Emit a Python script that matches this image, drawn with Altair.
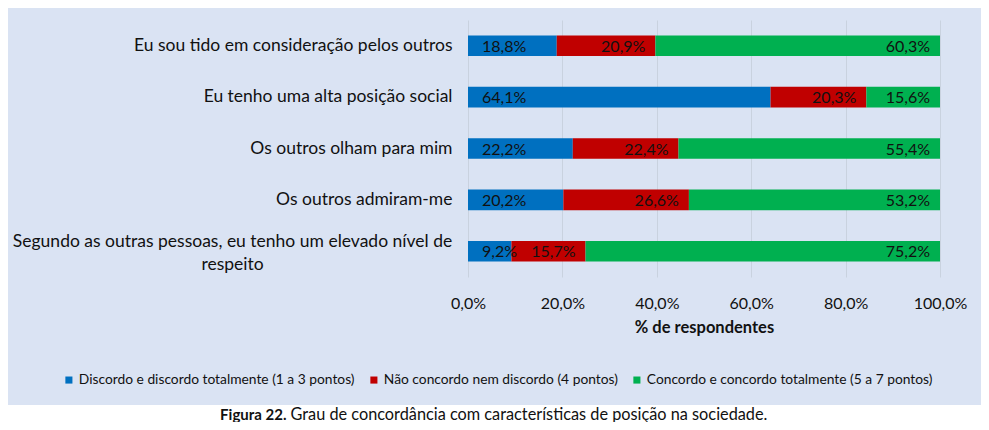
import json
import altair as alt
import pandas as pd

categories = [
    "Eu sou tido em consideração pelos outros",
    "Eu tenho uma alta posição social",
    "Os outros olham para mim",
    "Os outros admiram-me",
    "Segundo as outras pessoas, eu tenho um elevado nível de respeito",
]
multiline_label = "Segundo as outras pessoas, eu tenho um elevado nível de\nrespeito"
series = [
    "Discordo e discordo totalmente (1 a 3 pontos)",
    "Não concordo nem discordo (4 pontos)",
    "Concordo e concordo totalmente (5 a 7 pontos)",
]
discordo = [18.8, 64.1, 22.2, 20.2, 9.2]
neutro = [20.9, 20.3, 22.4, 26.6, 15.7]
concordo = [60.3, 15.6, 55.4, 53.2, 75.2]
colors = ["#0070c0", "#c00000", "#00b050"]
x_ticks = [0, 20, 40, 60, 80, 100]
x_title = "% de respondentes"
caption_bold = "Figura 22."
caption_text = "Grau de concordância com características de posição na sociedade."

FONT = "Lato"
BG = "#dae3f3"

rows = []
for i, cat in enumerate(categories):
    start = 0.0
    for j, vals in enumerate([discordo, neutro, concordo]):
        v = vals[i]
        rows.append({
            "cat": cat, "serie": series[j], "order": j,
            "start": start, "end": start + v,
            "label": f"{v:.1f}".replace(".", ",") + "%",
        })
        start += v
df = pd.DataFrame(rows)

W, H = 472, 257
ysc = alt.Scale(domain=categories, paddingInner=0.6, paddingOuter=0.3)
xsc = alt.Scale(domain=[0, 100], nice=False, clamp=True)

base = alt.Chart(df)

hide_expr = "datum.value == " + json.dumps(categories[4]) + " ? '' : datum.value"

bars = base.mark_bar().encode(
    y=alt.Y("cat:N", scale=ysc, sort=categories, title=None,
            axis=alt.Axis(domain=False, ticks=False, grid=False, labelPadding=16,
                          labelFont=FONT, labelFontSize=17.5, labelColor="#111",
                          labelLimit=600, labelExpr=hide_expr)),
    x=alt.X("start:Q", scale=xsc, title=x_title,
            axis=alt.Axis(values=x_ticks, domain=False, ticks=False, grid=True,
                          gridColor="#c9d2df", gridWidth=1, labelFlush=False,
                          labelExpr="replace(format(datum.value, '.1f'), '.', ',') + '%'",
                          labelFont=FONT, labelFontSize=16, labelColor="#111", labelPadding=18,
                          titleFont=FONT, titleFontSize=16.5, titleFontWeight="bold",
                          titleColor="#111", titlePadding=8)),
    x2="end:Q",
    color=alt.Color("serie:N", scale=alt.Scale(domain=series, range=colors),
                    legend=alt.Legend(orient="none", direction="horizontal", title=None,
                                      legendX=-406, legendY=353,
                                      symbolType="square", symbolSize=50, symbolStrokeWidth=0,
                                      labelFont=FONT, labelFontSize=13.8, labelColor="#111",
                                      labelOffset=3, columnPadding=12, labelLimit=400)),
    order="order:Q",
)

lab_first = base.transform_filter(alt.datum.order == 0).mark_text(
    align="left", baseline="middle", dx=14, dy=1, font=FONT, fontSize=16, color="#111"
).encode(y=alt.Y("cat:N", sort=categories), x=alt.X("start:Q"), text="label:N")

lab_rest = base.transform_filter(alt.datum.order > 0).mark_text(
    align="right", baseline="middle", dx=-10, dy=1, font=FONT, fontSize=16, color="#111"
).encode(y=alt.Y("cat:N", sort=categories), x=alt.X("end:Q"), text="label:N")

ml = alt.Chart(alt.Data(values=[{"cat": categories[4], "t": multiline_label}])).mark_text(
    align="center", baseline="middle", lineBreak="\n", lineHeight=23, dy=-9,
    font=FONT, fontSize=17.5, color="#111"
).encode(y=alt.Y("cat:N", sort=categories), x=alt.value(-235.5), text="t:N")

strip = alt.Chart(alt.Data(values=[{"a": 1}])).mark_rect(color="white").encode(
    x=alt.value(-460), x2=alt.value(513), y=alt.value(385), y2=alt.value(402))

cap1 = alt.Chart(alt.Data(values=[{"t": caption_bold}])).mark_text(
    align="right", baseline="middle", font=FONT, fontSize=15, fontWeight="bold", color="#111"
).encode(x=alt.value(-181.5), y=alt.value(395), text="t:N")
cap2 = alt.Chart(alt.Data(values=[{"t": caption_text}])).mark_text(
    align="left", baseline="middle", font=FONT, fontSize=16.3, color="#111"
).encode(x=alt.value(-177.5), y=alt.value(395), text="t:N")

chart = alt.layer(strip, bars, lab_first, lab_rest, ml, cap1, cap2).properties(
    width=W, height=H, background=BG,
    autosize=alt.AutoSizeParams(type="none"),
    padding={"left": 460, "top": 12, "right": 41, "bottom": 145},
).configure_view(stroke=None)

chart.save("out.html", embed_options={"renderer": "svg", "actions": False})
